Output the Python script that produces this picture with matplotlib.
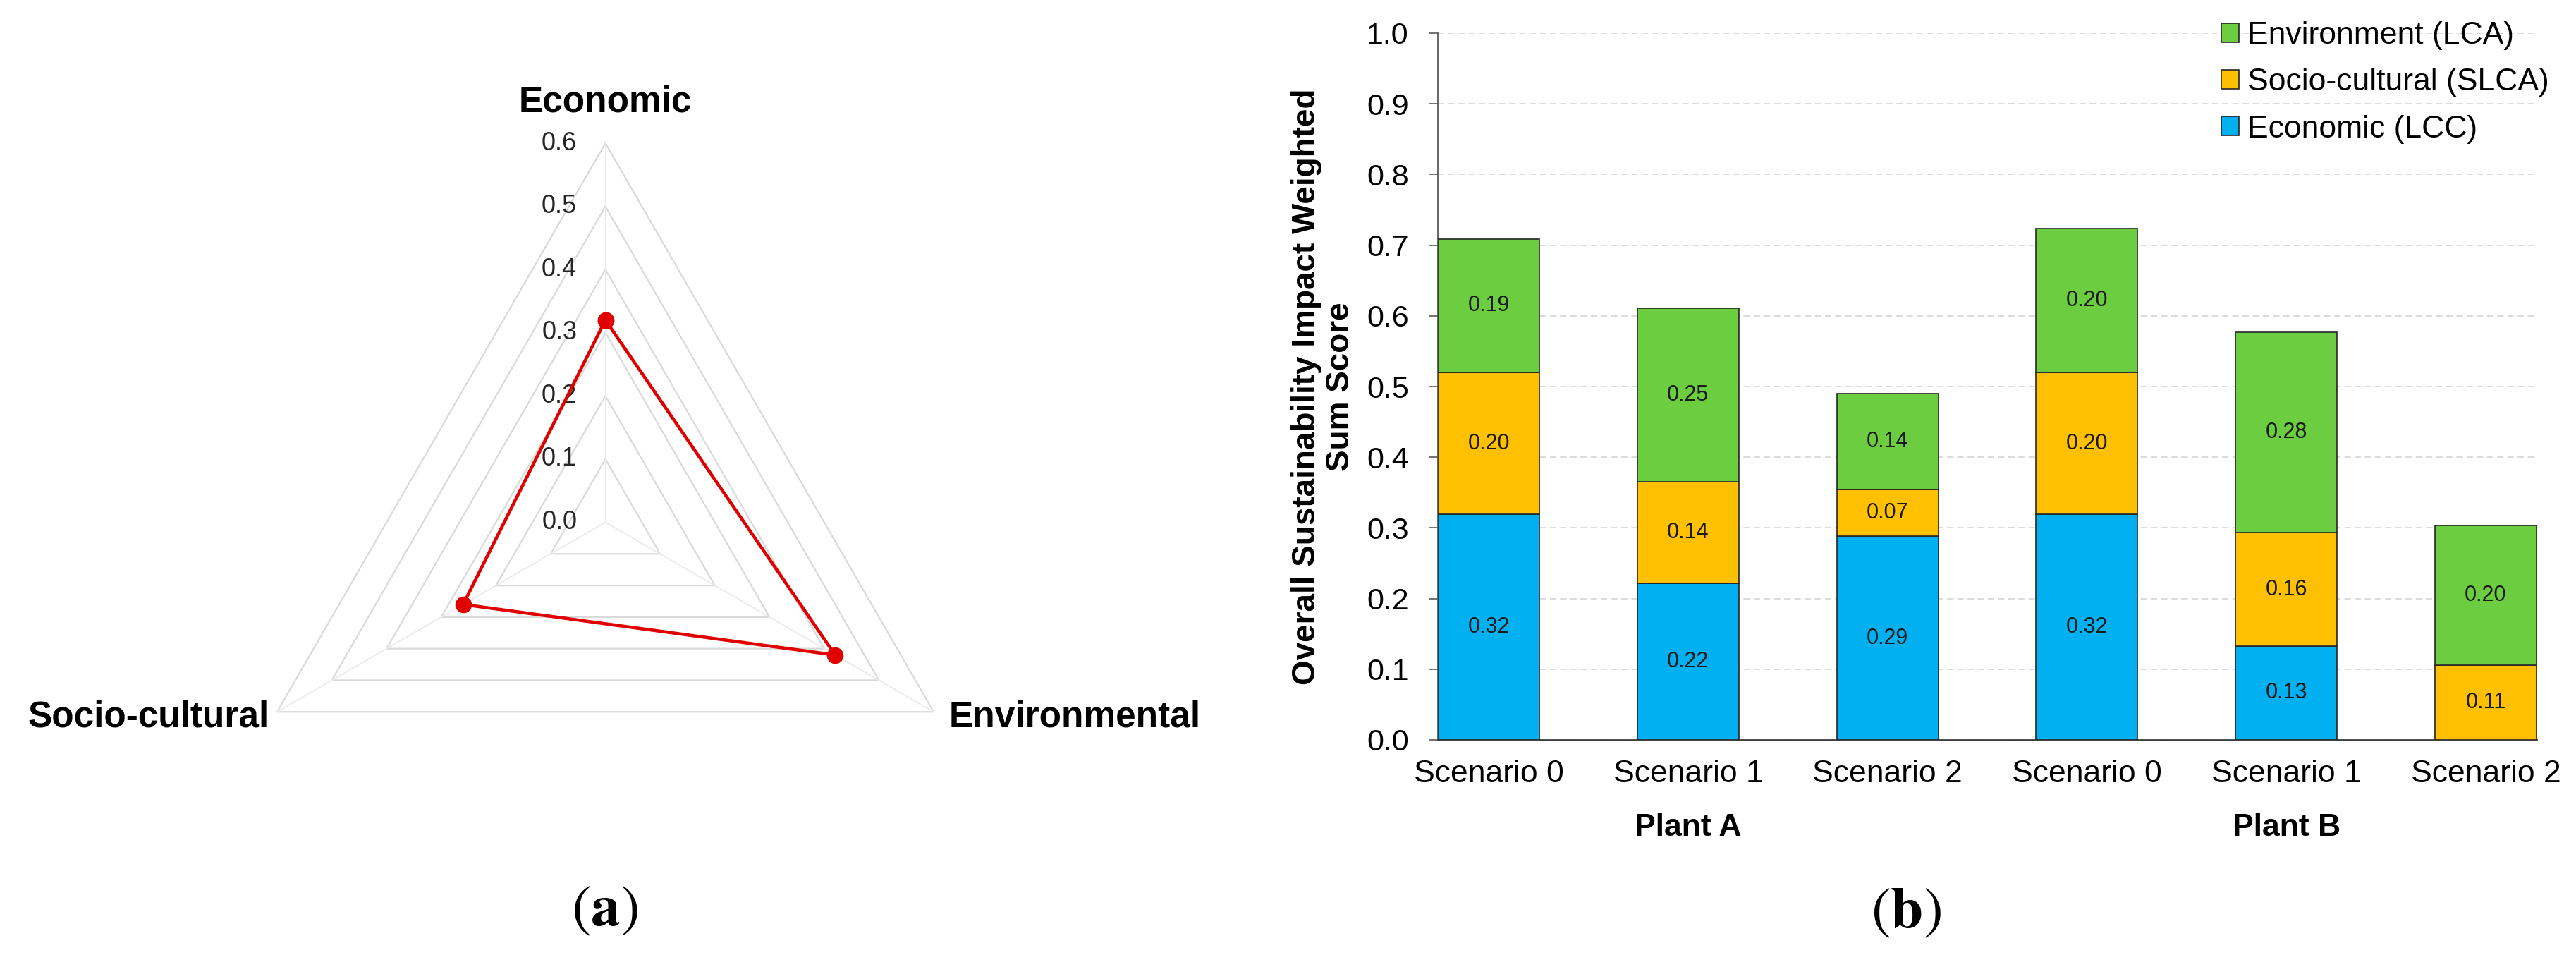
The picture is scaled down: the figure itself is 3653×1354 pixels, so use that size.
import numpy as np
import matplotlib
matplotlib.use('Agg')
import matplotlib.pyplot as plt
import matplotlib.transforms as mtransforms

plt.rcParams['font.family'] = ['Liberation Sans', 'DejaVu Sans']
plt.rcParams['mathtext.fontset'] = 'stix'

# (a) radar chart data
dimensions = ['Economic', 'Environmental', 'Socio-cultural']
radar_values = [0.32, 0.42, 0.26]
radar_rings = [0.0, 0.1, 0.2, 0.3, 0.4, 0.5, 0.6]

# (b) stacked bars data
scenarios = ['Scenario 0', 'Scenario 1', 'Scenario 2',
             'Scenario 0', 'Scenario 1', 'Scenario 2']
plants = ['Plant A', 'Plant B']
economic = [0.319, 0.222, 0.288, 0.319, 0.133, 0.0]
socio = [0.201, 0.143, 0.066, 0.201, 0.160, 0.106]
environment = [0.189, 0.246, 0.136, 0.204, 0.284, 0.197]
series_names = ['Economic (LCC)', 'Socio-cultural (SLCA)', 'Environment (LCA)']
series_colors = ['#00B0F0', '#FFC000', '#6CCD40']

W, H = 3653, 1354
fig = plt.figure(figsize=(W / 100, H / 100), dpi=100)

# ---------- (a) radar ----------
unit = 895.8  # pixels per value unit
cx, cy = 858.5, 740.5
axr = fig.add_axes([0, 0, 1717 / W, 1])
axr.set_xlim(-cx / unit, (1717 - cx) / unit)
axr.set_ylim(-(H - cy) / unit, cy / unit)
axr.axis('off')

angles = np.deg2rad([90, -30, 210])
closed = np.append(angles, angles[0])

for r in radar_rings[1:]:
    axr.plot(r * np.cos(closed), r * np.sin(closed), color='#D9D9D9', lw=1.6, zorder=1)
rmax = radar_rings[-1]
for a in angles:
    axr.plot([0, rmax * np.cos(a)], [0, rmax * np.sin(a)], color='#EBEBEB', lw=1.4, zorder=1)

for r in radar_rings:
    axr.text(-0.045, r, f'{r:.1f}', ha='right', va='center', fontsize=26, color='#262626')

vals = np.array(radar_values + radar_values[:1])
axr.plot(vals * np.cos(closed), vals * np.sin(closed), color='#E00000', lw=3.3,
         marker='o', markersize=16, zorder=3)

lab_off = 0.065
axr.text(0, rmax + lab_off, dimensions[0], ha='center', va='center',
         fontsize=37, fontweight='bold')
axr.text(rmax * np.cos(angles[1]) + 0.024, rmax * np.sin(angles[1]) - 0.009, dimensions[1],
         ha='left', va='center', fontsize=37, fontweight='bold')
axr.text(rmax * np.cos(angles[2]) - 0.013, rmax * np.sin(angles[2]) - 0.009, dimensions[2],
         ha='right', va='center', fontsize=37, fontweight='bold')

fig.text(858 / W, 1 - 1290 / H, r'$(\mathbf{a})$', ha='center', va='center', fontsize=60)

# ---------- (b) stacked bars ----------
ax = fig.add_axes([2039 / W, 1 - 1049 / H, 1558 / W, 1002 / H])
x = np.arange(len(scenarios))
width = 0.51
bottom = np.zeros(len(scenarios))
handles = []
for vals_s, name, col in zip([economic, socio, environment], series_names, series_colors):
    vals_s = np.array(vals_s)
    bars = ax.bar(x, vals_s, width, bottom=bottom, color=col, edgecolor='#262626',
                  linewidth=1.2, label=name, zorder=3)
    handles.append(bars)
    for xi, b, v in zip(x, bottom, vals_s):
        if v > 0.005:
            ax.text(xi, b + v / 2, f'{v:.2f}', ha='center', va='center',
                    fontsize=22, color='#1A1A1A', zorder=4)
    bottom += vals_s

ax.set_xlim(-width / 2, len(scenarios) - 1 + width / 2)
ax.set_ylim(0, 1.0)
ax.set_yticks(np.arange(0, 1.01, 0.1))
ax.yaxis.set_major_formatter(matplotlib.ticker.FormatStrFormatter('%.1f'))
ax.set_xticks(x)
ax.set_xticklabels(scenarios, fontsize=32)
ax.tick_params(axis='x', length=0, pad=20)
ax.tick_params(axis='y', labelsize=31, length=12 * 72 / 100, width=1.2,
               color='#595959', pad=21, direction='out')
ax.grid(axis='y', color='#D9D9D9', lw=1.3, linestyle=(0, (5, 3)), zorder=0)
ax.set_axisbelow(True)
for s in ['top', 'right']:
    ax.spines[s].set_visible(False)
ax.spines['left'].set_color('#595959')
ax.spines['left'].set_linewidth(1.3)
ax.spines['bottom'].set_color('#404040')
ax.spines['bottom'].set_linewidth(2)

ax.text(-0.104, 0.5, 'Overall Sustainability Impact Weighted\nSum Score', transform=ax.transAxes,
        rotation=90, ha='center', va='center', fontsize=33, fontweight='bold',
        linespacing=1.1, multialignment='center')

trans = mtransforms.blended_transform_factory(ax.transData, ax.transAxes)
for i, p in enumerate(plants):
    ax.text(1 + 3 * i, -0.1238, p, transform=trans, ha='center', va='center',
            fontsize=32, fontweight='bold')

ax.legend(handles[::-1], series_names[::-1], loc='upper left',
          bbox_to_anchor=(3150 / W, 1 - 30 / H), bbox_transform=fig.transFigure,
          frameon=False, fontsize=32, handlelength=0.56, handleheight=0.56,
          handletextpad=0.27, labelspacing=0.57, borderpad=0, borderaxespad=0)

fig.text(2703 / W, 1 - 1293 / H, r'$(\mathbf{b})$', ha='center', va='center', fontsize=60)

fig.savefig('out.png', dpi=100)
